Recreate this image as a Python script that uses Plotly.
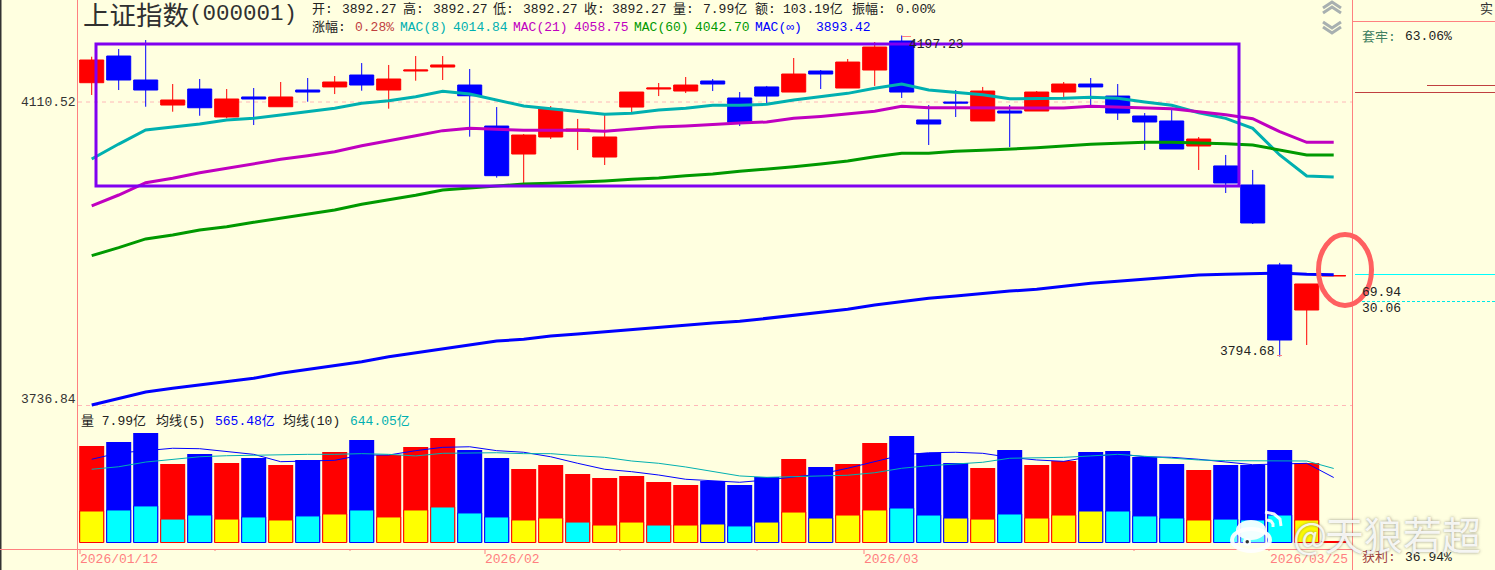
import math
import plotly.graph_objects as go

W, H = 1495, 570

# 47 sessions, oldest first
days = list(range(47))
opens = [4135.5, 4170.3, 4139.0, 4106.6, 4127.3, 4091.2, 4117.0, 4104.4, 4126.0, 4130.0,
         4145.5, 4126.0, 4150.7, 4155.9, 4132.5, 4079.6, 4043.9, 4065.6, 4073.3, 4040.1,
         4104.0, 4127.3, 4124.7, 4137.7, 4115.7, 4130.0, 4123.4, 4150.7, 4128.6, 4152.0,
         4190.0, 4087.4, 4110.5, 4086.1, 4098.9, 4098.9, 4123.4, 4133.8, 4118.2, 4092.5,
         4086.1, 4054.1, 4028.8, 4004.8, 3905.5, 3850.6, 3892.27]
highs = [4169.4, 4179.5, 4191.3, 4133.8, 4140.3, 4127.3, 4128.6, 4136.4, 4141.6, 4144.2,
         4161.1, 4158.6, 4170.3, 4170.3, 4153.3, 4104.0, 4069.4, 4105.3, 4088.7, 4093.7,
         4123.4, 4135.1, 4142.9, 4140.3, 4123.4, 4131.3, 4167.7, 4152.0, 4166.4, 4188.7,
         4197.23, 4106.6, 4126.0, 4130.0, 4106.6, 4124.7, 4136.4, 4141.6, 4133.8, 4096.3,
         4100.2, 4065.6, 4042.7, 4023.7, 3908.0, 3882.2, 3892.27]
lows = [4119.6, 4126.0, 4104.4, 4098.0, 4092.8, 4089.5, 4080.9, 4104.4, 4110.9, 4120.8,
        4125.1, 4101.9, 4138.1, 4139.0, 4066.0, 4014.0, 4006.0, 4063.0, 4049.0, 4030.0,
        4096.3, 4118.2, 4122.1, 4124.7, 4079.6, 4109.2, 4123.4, 4127.3, 4128.6, 4131.3,
        4115.7, 4055.4, 4091.2, 4086.1, 4052.8, 4098.9, 4117.0, 4106.6, 4087.4, 4049.0,
        4050.3, 4023.7, 3994.7, 3956.0, 3794.68, 3808.5, 3892.27]
closes = [4165.1, 4139.0, 4126.0, 4113.1, 4103.1, 4114.4, 4114.4, 4117.0, 4123.4, 4136.4,
          4132.5, 4140.3, 4152.0, 4158.6, 4118.6, 4016.5, 4068.1, 4101.5, 4075.8, 4065.6,
          4123.4, 4128.6, 4132.5, 4133.8, 4084.4, 4118.2, 4146.8, 4146.8, 4162.4, 4182.1,
          4123.4, 4082.2, 4109.2, 4124.7, 4096.3, 4123.4, 4133.8, 4130.0, 4096.3, 4084.8,
          4050.3, 4063.0, 4007.3, 3957.3, 3814.5, 3882.2, 3892.28]

mac8 = [4037.6, 4056.6, 4074.5, 4078.7, 4082.2, 4087.4, 4089.5, 4093.7, 4098.0, 4102.4,
        4108.8, 4112.2, 4117.3, 4124.3, 4120.8, 4113.1, 4105.3, 4101.9, 4098.0, 4094.6,
        4095.9, 4100.2, 4102.4, 4106.2, 4106.2, 4107.5, 4113.1, 4117.3, 4121.7, 4128.2,
        4133.8, 4126.0, 4123.4, 4119.9, 4114.8, 4114.8, 4115.3, 4116.6, 4115.3, 4110.5,
        4106.2, 4096.7, 4089.5, 4076.7, 4042.7, 4016.1, 4014.84]
mac21 = [3978.5, 3992.2, 4007.6, 4013.2, 4020.2, 4025.8, 4032.1, 4037.2, 4041.8, 4046.8,
         4054.5, 4060.5, 4067.2, 4073.7, 4076.7, 4075.4, 4074.2, 4074.2, 4074.2, 4072.9,
         4075.8, 4078.3, 4079.6, 4081.8, 4083.5, 4084.8, 4089.5, 4092.0, 4095.0, 4098.5,
         4104.9, 4103.1, 4103.1, 4103.1, 4102.4, 4102.4, 4102.8, 4104.9, 4104.0, 4103.7,
         4101.9, 4098.0, 4094.1, 4089.0, 4072.4, 4058.75, 4058.75]
mac60 = [3916.9, 3926.7, 3937.5, 3942.4, 3948.6, 3952.7, 3958.1, 3963.1, 3968.1, 3973.5,
         3980.6, 3985.9, 3991.8, 3998.5, 4001.0, 4002.6, 4006.0, 4006.9, 4008.1, 4009.8,
         4011.9, 4013.6, 4016.5, 4018.6, 4022.0, 4024.5, 4027.8, 4031.3, 4035.0, 4040.5,
         4044.8, 4044.8, 4047.4, 4048.6, 4049.9, 4051.9, 4054.1, 4056.3, 4057.5, 4058.8,
         4058.8, 4058.3, 4057.0, 4055.4, 4049.0, 4042.7, 4042.70]
mac_inf = [3737.4, 3745.3, 3752.7, 3757.1, 3761.3, 3764.8, 3768.9, 3774.8, 3779.6, 3784.6,
           3788.6, 3794.6, 3799.4, 3804.5, 3809.3, 3813.3, 3815.3, 3819.3, 3821.7, 3824.4,
           3826.5, 3829.8, 3832.5, 3834.9, 3836.9, 3840.5, 3844.2, 3847.3, 3851.4, 3856.6,
           3861.1, 3864.8, 3867.5, 3870.9, 3873.6, 3875.7, 3879.7, 3883.0, 3885.5, 3887.9,
           3890.7, 3893.1, 3894.0, 3895.2, 3895.6, 3894.0, 3893.42]

# volume in 亿, and the inner part drawn at the foot of each bar
volume = [840, 874, 953, 683, 770, 692, 735, 674, 718, 787, 892, 761, 831, 909, 805, 735,
          639, 674, 596, 561, 579, 526, 500, 535, 500, 570, 726, 657, 683, 866, 927, 779,
          692, 648, 805, 674, 709, 787, 796, 744, 683, 631, 674, 674, 805, 692, 7.99]
inner_vol = [274, 283, 318, 204, 239, 204, 222, 196, 231, 248, 283, 222, 283, 309, 257, 222,
             196, 213, 178, 152, 178, 152, 152, 161, 144, 178, 265, 213, 239, 283, 300, 239,
             213, 204, 248, 213, 239, 274, 274, 231, 213, 196, 204, 196, 239, 196, 0]
# 1 = inner part rose, 0 = inner part fell
inner_up = [1, 0, 0, 0, 0, 1, 0, 1, 0, 1, 0, 1, 1, 0, 0, 0,
            1, 1, 0, 1, 1, 0, 1, 1, 0, 1, 1, 1, 1, 1, 0, 0,
            1, 1, 0, 1, 1, 1, 0, 0, 0, 1, 0, 0, 0, 1, 1]
vol_ma5 = [724, 779, 799, 820, 816, 790, 767, 703, 709, 715, 761, 761, 799, 828, 833, 799,
           785, 746, 689, 637, 616, 587, 550, 535, 524, 544, 567, 596, 646, 703, 761, 781,
           785, 776, 741, 718, 706, 746, 770, 746, 741, 724, 703, 677, 683, 689, 565.48]
vol_ma10 = [637, 659, 700, 724, 746, 755, 761, 761, 767, 767, 773, 767, 753, 776, 781, 781,
            773, 773, 755, 741, 709, 689, 657, 616, 579, 567, 572, 576, 585, 607, 646, 668,
            683, 698, 733, 738, 741, 753, 767, 750, 733, 718, 712, 712, 715, 709, 644.05]

RED, BLUE = "#FF0000", "#0000FF"
TEAL, MAGENTA, GREEN = "#00B0B0", "#C000C0", "#009900"
PINK = "#FF8080"
MONO = "Liberation Mono, Noto Sans CJK SC"


def px(x):
    return x / W


def py(y):
    return 1 - y / H


fig = go.Figure()

fig.add_trace(go.Candlestick(
    x=days, open=opens, high=highs, low=lows, close=closes,
    xaxis="x", yaxis="y", whiskerwidth=0, hoverinfo="skip", showlegend=False,
    increasing=dict(line=dict(color=RED, width=1), fillcolor=RED),
    decreasing=dict(line=dict(color=BLUE, width=1), fillcolor=BLUE),
))

for vals, col in [(mac8, TEAL), (mac21, MAGENTA), (mac60, GREEN), (mac_inf, BLUE)]:
    fig.add_trace(go.Scatter(x=days, y=vals, mode="lines", yaxis="y", hoverinfo="skip",
                             line=dict(color=col, width=3), showlegend=False))

bar_cols = [RED if c >= o else BLUE for o, c in zip(opens, closes)]
inner_cols = ["#FFFF00" if u else "#00FFFF" for u in inner_up]
fig.add_trace(go.Bar(x=days, y=volume, yaxis="y2", width=25 / 27, hoverinfo="skip",
                     marker=dict(color=bar_cols, line=dict(width=0)), showlegend=False))
fig.add_trace(go.Bar(x=days, y=inner_vol, yaxis="y2", width=24 / 27, hoverinfo="skip",
                     marker=dict(color=inner_cols, line=dict(color=bar_cols, width=1)),
                     showlegend=False))
for vals, col in [(vol_ma5, BLUE), (vol_ma10, TEAL)]:
    fig.add_trace(go.Scatter(x=days, y=vals, mode="lines", yaxis="y2", hoverinfo="skip",
                             line=dict(color=col, width=1), showlegend=False))

shapes = []


def hline(y, x0, x1, col, width=1, dash="solid", layer="above"):
    shapes.append(dict(type="line", xref="paper", yref="paper", x0=px(x0), x1=px(x1),
                       y0=py(y), y1=py(y), layer=layer,
                       line=dict(color=col, width=width, dash=dash)))


def vline(x, y0, y1, col, width=1):
    shapes.append(dict(type="line", xref="paper", yref="paper", x0=px(x), x1=px(x),
                       y0=py(y0), y1=py(y1), line=dict(color=col, width=width)))


def poly(points, col, width):
    d = "M" + " L".join(f"{px(a):.5f},{py(b):.5f}" for a, b in points)
    shapes.append(dict(type="path", xref="paper", yref="paper", path=d,
                       line=dict(color=col, width=width)))


def blob(x0, x1, y0, y1, fill, line_col=None, line_w=0):
    shapes.append(dict(type="circle", xref="paper", yref="paper", x0=px(x0), x1=px(x1),
                       y0=py(y1), y1=py(y0), fillcolor=fill,
                       line=dict(color=line_col, width=line_w)))


# frame and guides
shapes.append(dict(type="rect", xref="paper", yref="paper", x0=0, x1=px(1.5), y0=0, y1=1,
                   fillcolor="#333333", line=dict(width=0)))
vline(77.5, 0, 570, PINK)
vline(1352.5, 0, 570, PINK)
hline(549.5, 0, 1352, PINK)
hline(21.5, 1352, 1495, PINK)
hline(102, 78, 1352, "#FFB8B8", dash="4px,4px", layer="below")
hline(405.5, 78, 1352, "#FFB8B8", dash="4px,4px", layer="below")
for tx, ty in [(80, 554), (215, 551), (350, 551), (485, 554), (620, 551), (757, 551),
               (864, 554), (1134, 551), (1269, 551)]:
    vline(tx, 549.5, ty, PINK)
hline(36.5, 902, 911, PINK)
hline(355.5, 1277, 1282, PINK)

# chip panel lines
hline(85.5, 1427, 1495, "#C04040")
hline(92.5, 1355, 1495, "#C04040")
hline(274.5, 1355, 1495, "#00FFFF", width=1.2)
hline(301.5, 1362, 1495, "#00E8E8", dash="3px,2px")

# scroll arrows
for top in (2, 22):
    sign_y = [top + 6, top, top + 6] if top == 2 else [top, top + 6, top]
    poly(list(zip([1323, 1332, 1341], sign_y)), "#A8B0B0", 3)
    poly(list(zip([1323, 1332, 1341], [v + 5 for v in sign_y])), "#A8B0B0", 3)

# hand drawn highlights
shapes.append(dict(type="rect", xref="paper", yref="paper", x0=px(96), x1=px(1239),
                   y0=py(186), y1=py(44), line=dict(color="#8000F0", width=3)))
blob(1318.5, 1371.5, 234.5, 305.5, "rgba(0,0,0,0)", "#FF6060", 5)

# weibo logo of the watermark
logo_white = "rgba(255,255,255,0.92)"
blob(1232, 1270, 529, 551, "rgba(255,255,255,0.35)", logo_white, 4)
blob(1236, 1266, 520, 540, logo_white)
blob(1243, 1251, 538, 546, logo_white)
blob(1245.5, 1249, 540, 543.5, "#303030")
for arc in [[(1265, 512), (1274, 514), (1280, 519), (1281, 526)],
            [(1267, 520), (1271, 521), (1273, 524), (1273, 527)]]:
    poly(arc, logo_white, 3)

notes = []


def text(x, y, s, col="#222222", size=13, anchor="left", family=MONO, **font_extra):
    notes.append(dict(xref="paper", yref="paper", x=px(x), y=py(y), text=s, showarrow=False,
                      xanchor=anchor, yanchor="middle", borderpad=0, borderwidth=0,
                      font=dict(family=family, size=size, color=col, **font_extra)))


text(83, 14, "上证指数", "#303030", 26.5, family="Noto Sans CJK SC")
text(189, 14, "(000001)", "#303030", 22.5)

for lx, vx, lab, val in [(312, 342, "开:", "3892.27"), (403, 433, "高:", "3892.27"),
                         (493, 523, "低:", "3892.27"), (584, 612, "收:", "3892.27"),
                         (673, 703, "量:", "7.99亿"), (755, 783, "额:", "103.19亿"),
                         (852, 896, "振幅:", "0.00%")]:
    text(lx, 9, lab)
    text(vx, 9, val)

text(312, 27, "涨幅:")
text(355, 27, "0.28%", "#C04040")
for lx, vx, lab, val, col in [(400, 453, "MAC(8)", "4014.84", TEAL),
                              (513, 574, "MAC(21)", "4058.75", MAGENTA),
                              (634, 695, "MAC(60)", "4042.70", GREEN),
                              (755, 816, "MAC(∞)", "3893.42", BLUE)]:
    text(lx, 27, lab, col)
    text(vx, 27, val, col)

text(76, 102, "4110.52", "#333333", anchor="right")
text(76, 399, "3736.84", "#333333", anchor="right")
text(909, 44, "4197.23", "#222222")
text(1220, 351.5, "3794.68", "#222222")

text(81, 421, "量 7.99亿")
text(156, 421, "均线(5)")
text(215, 421, "565.48亿", BLUE)
text(283, 421, "均线(10)")
text(350, 421, "644.05亿", TEAL)

text(80, 559, "2026/01/12", PINK)
text(485, 559, "2026/02", PINK)
text(864, 559, "2026/03", PINK)
text(1270, 559, "2026/03/25", PINK)

text(1480, 9, "实", "#303030")
text(1362, 37, "套牢:", "#408060")
text(1405, 37, "63.06%")
text(1362, 292, "69.94")
text(1362, 308, "30.06")
text(1362, 557, "获利:", "#A04040")
text(1405, 557, "36.94%")

glow = "0 0 3px rgba(110,110,100,0.85)"
text(1293, 533, "@", "rgba(255,255,255,0.88)", 36, family="Noto Sans CJK SC", shadow=glow)
text(1325, 533, "天狼若超", "rgba(255,255,255,0.88)", 39, family="Noto Sans CJK SC", shadow=glow)

# price axis is logarithmic: 4110.52 sits on y=102, one pixel is 1/7332 of a decade
log_per_px = 1 / 7332.4
log_anchor = math.log10(4110.52)
price_top = log_anchor + 102 * log_per_px
price_bottom = log_anchor - (410 - 102) * log_per_px
vol_per_px = 8.7

fig.update_layout(
    width=W, height=H, margin=dict(l=0, r=0, t=0, b=0), autosize=False,
    paper_bgcolor="#FFFFE0", plot_bgcolor="rgba(0,0,0,0)",
    barmode="overlay", boxmode="overlay", boxgap=0.11, boxgroupgap=0,
    showlegend=False, hovermode=False, shapes=shapes, annotations=notes,
    xaxis=dict(domain=[px(77.5), px(1352.5)], range=[-0.526, 46.696], visible=False,
               rangeslider=dict(visible=False), fixedrange=True),
    yaxis=dict(domain=[py(410), py(0)], type="log", range=[price_bottom, price_top],
               visible=False, fixedrange=True),
    yaxis2=dict(domain=[py(549), py(410)], range=[-6.5 * vol_per_px, 132.5 * vol_per_px],
                visible=False, fixedrange=True),
)

fig.write_html("out.html", config={"displayModeBar": False},
               post_script="document.body.style.margin='0';")
